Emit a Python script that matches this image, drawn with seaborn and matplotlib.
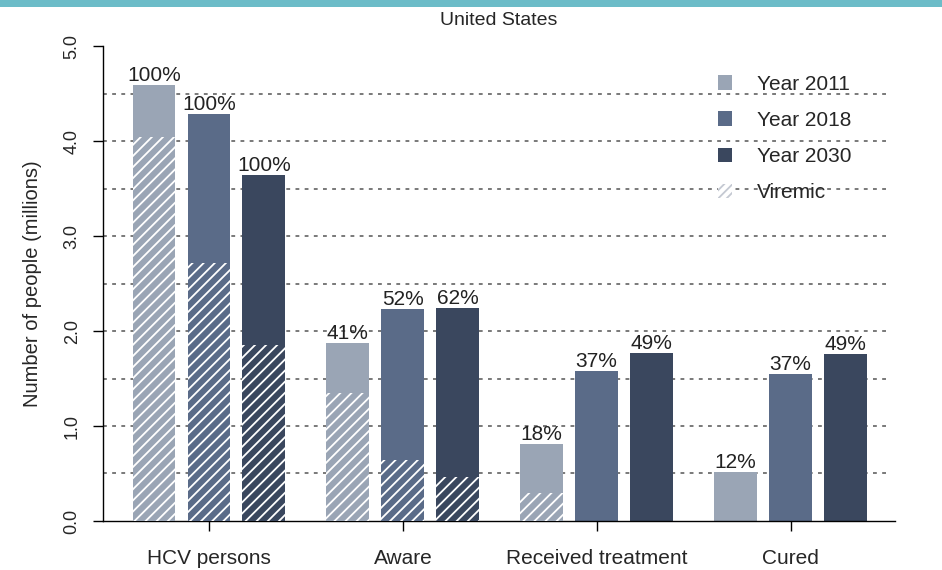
import numpy as np
import pandas as pd
import seaborn as sns
import matplotlib.pyplot as plt
from matplotlib.patches import Patch, Rectangle

stages = ["HCV persons", "Aware", "Received treatment", "Cured"]
years = ["Year 2011", "Year 2018", "Year 2030"]

# number of people (millions), one list per year, in stage order
total_2011 = [4.59, 1.87, 0.81, 0.52]
total_2018 = [4.29, 2.23, 1.58, 1.55]
total_2030 = [3.64, 2.24, 1.77, 1.76]

viremic_2011 = [4.04, 1.35, 0.29, 0.0]
viremic_2018 = [2.72, 0.64, 0.0, 0.0]
viremic_2030 = [1.85, 0.46, 0.0, 0.0]

pct_2011 = ["100%", "41%", "18%", "12%"]
pct_2018 = ["100%", "52%", "37%", "37%"]
pct_2030 = ["100%", "62%", "49%", "49%"]

colors = ["#9aa5b5", "#5a6b88", "#3a475e"]

df = pd.DataFrame({
    "stage": stages * 3,
    "year": [y for y in years for _ in stages],
    "total": total_2011 + total_2018 + total_2030,
    "viremic": viremic_2011 + viremic_2018 + viremic_2030,
})

sns.set_style("white")
plt.rcParams["font.family"] = ["Liberation Sans", "DejaVu Sans"]
plt.rcParams["hatch.linewidth"] = 1.3

fig = plt.figure(figsize=(9.42, 5.70), dpi=100)
ax = fig.add_axes([0.1093, 0.086, 0.841, 0.833])

# thin banner left over from the source page
fig.patches.append(Rectangle((0, 0.988), 1, 0.012, transform=fig.transFigure,
                             facecolor="#6cbcc8", edgecolor="none"))

sns.barplot(data=df, x="stage", y="total", hue="year", palette=colors,
            width=0.85, gap=0.22, errorbar=None, saturation=1,
            linewidth=0, legend=False, ax=ax, zorder=2)
sns.barplot(data=df, x="stage", y="viremic", hue="year", palette=colors,
            width=0.85, gap=0.22, errorbar=None, saturation=1,
            hatch="///", edgecolor="white", linewidth=0,
            legend=False, ax=ax, zorder=3)

for cont, labs in zip(ax.containers[:3], [pct_2011, pct_2018, pct_2030]):
    ax.bar_label(cont, labels=labs, padding=0, fontsize=15, color="#222222")

# dotted guide lines
for yv in np.arange(0.5, 5.0, 0.5):
    ax.axhline(yv, xmax=0.991, color="#555555", lw=1.1, ls=(0, (2.5, 3.5)), zorder=1)

ax.set_xlim(-0.547, 3.54)
ax.set_ylim(0, 5)
ax.set_yticks([0, 1, 2, 3, 4, 5])
ax.set_yticklabels(["0.0", "1.0", "2.0", "3.0", "4.0", "5.0"],
                   rotation=90, va="center", fontsize=13)
ax.set_xticks(range(len(stages)))
ax.set_xticklabels(stages, fontsize=15)
ax.tick_params(axis="both", direction="out", length=7, width=1, color="black",
               left=True, bottom=True)
ax.tick_params(axis="y", pad=9)
ax.tick_params(axis="x", pad=13)

for s in ["top", "right"]:
    ax.spines[s].set_visible(False)
ax.spines["left"].set_bounds(0, 5)
for s in ["left", "bottom"]:
    ax.spines[s].set_color("black")
    ax.spines[s].set_linewidth(1)

ax.set_xlabel("")
ax.set_ylabel("Number of people (millions)", fontsize=14.5, labelpad=16)
ax.set_title("United States", fontsize=14, pad=15)

handles = [Patch(facecolor=c, edgecolor="none") for c in colors]
handles.append(Patch(facecolor="white", edgecolor="#c4c9d2", hatch="////", lw=0))
leg = ax.legend(handles, years + ["Viremic"], loc="upper left",
                bbox_to_anchor=(0.751, 0.887), bbox_transform=fig.transFigure,
                frameon=False, fontsize=15, handlelength=0.68, handleheight=0.68,
                handletextpad=1.2, labelspacing=0.82, borderpad=0)
leg.set_zorder(5)

fig.savefig("out.png", dpi=100)
